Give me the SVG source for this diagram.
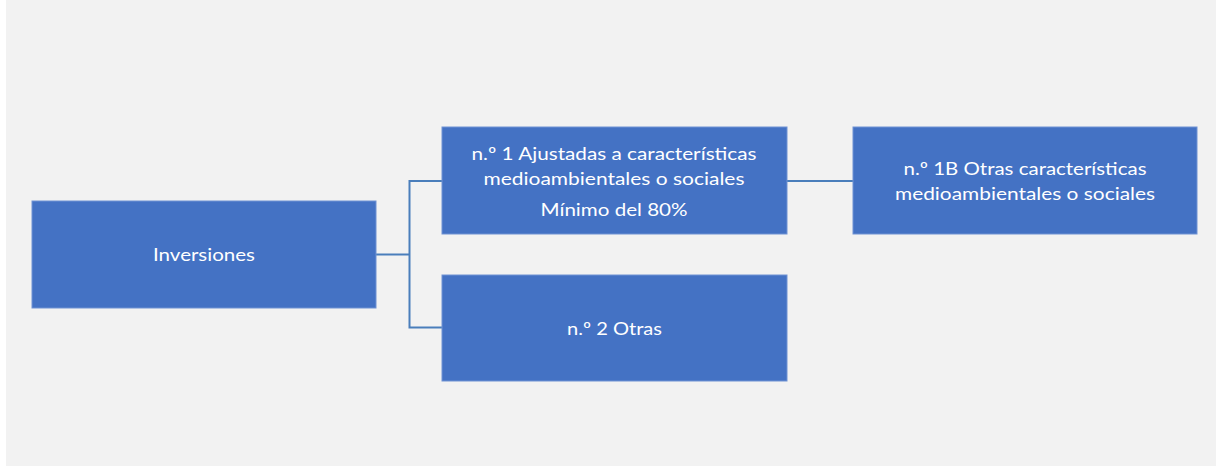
<svg xmlns="http://www.w3.org/2000/svg" width="1221" height="468" viewBox="0 0 1221 468">
  <style>
    .box { fill: #4472C4; stroke: #6f92d3; stroke-width: 1; }
    .lbl { fill: #FFFFFF; font-family: Lato, "Open Sans", "Liberation Sans", sans-serif; font-size: 17.5px; text-anchor: middle; }
    .conn { fill: none; stroke: #4A7EBB; stroke-width: 2; }
  </style>
  <rect x="0" y="0" width="1221" height="468" fill="#FFFFFF"/>
  <rect x="6" y="0" width="1210" height="466" fill="#F2F2F2"/>
  <g id="connectors">
    <path class="conn" d="M376 254.5 H409.5"/>
    <path class="conn" d="M442 181 H409.5 V327.5 H442"/>
    <path class="conn" d="M787 181 H853"/>
  </g>
  <g id="node-inversiones">
    <rect class="box" x="32" y="201" width="344" height="107"/>
    <text class="lbl" x="204" y="260.5" textLength="102" lengthAdjust="spacingAndGlyphs">Inversiones</text>
  </g>
  <g id="node-1">
    <rect class="box" x="442" y="127" width="345" height="107"/>
    <text class="lbl" x="614" y="159.5" textLength="285" lengthAdjust="spacingAndGlyphs">n.º 1 Ajustadas a características</text>
    <text class="lbl" x="614" y="184.5" textLength="261" lengthAdjust="spacingAndGlyphs">medioambientales o sociales</text>
    <text class="lbl" x="614" y="215.5" textLength="147" lengthAdjust="spacingAndGlyphs">Mínimo del 80%</text>
  </g>
  <g id="node-1b">
    <rect class="box" x="853" y="127" width="344" height="107"/>
    <text class="lbl" x="1025" y="175" textLength="243" lengthAdjust="spacingAndGlyphs">n.º 1B Otras características</text>
    <text class="lbl" x="1025" y="200" textLength="260" lengthAdjust="spacingAndGlyphs">medioambientales o sociales</text>
  </g>
  <g id="node-2">
    <rect class="box" x="442" y="275" width="345" height="106"/>
    <text class="lbl" x="614.5" y="334.5" textLength="95" lengthAdjust="spacingAndGlyphs">n.º 2 Otras</text>
  </g>
</svg>
